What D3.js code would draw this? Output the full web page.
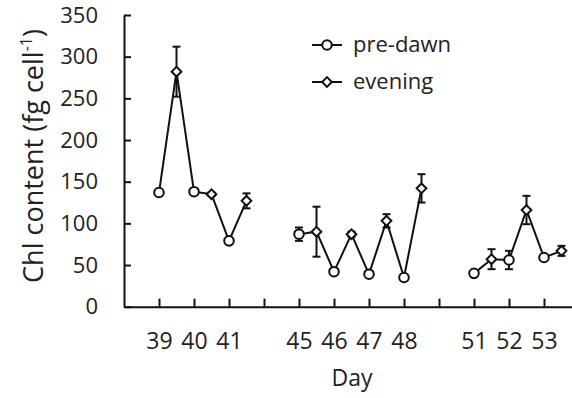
<!DOCTYPE html>
<html>
<head>
<meta charset="utf-8">
<script src="https://cdn.jsdelivr.net/npm/d3@7"></script>
<style>
  html, body { margin: 0; padding: 0; background: #fff; }
  svg { display: block; }
  text { font-family: "Open Sans", "DejaVu Sans", sans-serif; fill: #222; }
</style>
</head>
<body>
<svg id="chart" width="572" height="398"></svg>
<script>
// Category slots along the x axis (blank slots are gaps between sampling runs)
const tickLabels = ["39", "40", "41", "", "45", "46", "47", "48", "", "51", "52", "53"];
const days = [39, 40, 41, 45, 46, 47, 48, 51, 52, 53];

// Chl content (fg cell^-1), mean and error
const preDawn    = [137, 138, 79, 87, 42, 39, 35, 40, 56, 59];
const preDawnErr = [3, 2, 3, 8, 2, 2, 2, 2, 11, 2];
const evening    = [282, 135, 127, 90, 87, 103, 142, 57, 116, 67];
const eveningErr = [30, 2, 9, 30, 3, 8, 17, 12, 17, 6];

const yTicks = [0, 50, 100, 150, 200, 250, 300, 350];
const seriesNames = ["pre-dawn", "evening"];

const svg = d3.select("#chart");
const ink = "#111";

const x = d3.scaleLinear().domain([-1, 12]).range([124, 579]);
const y = d3.scaleLinear().domain([0, 350]).range([306.7, 15]);

const slotOf = d => tickLabels.indexOf(String(d));

// pre-dawn samples sit on the day tick, evening samples half a slot later
const points = [];
days.forEach((d, i) => {
  points.push({ pos: slotOf(d), v: preDawn[i], e: preDawnErr[i], kind: 0 });
  points.push({ pos: slotOf(d) + 0.5, v: evening[i], e: eveningErr[i], kind: 1 });
});
points.sort((a, b) => a.pos - b.pos);

// split into runs of consecutive samples
const runs = [];
points.forEach((p, i) => {
  if (i === 0 || p.pos - points[i - 1].pos > 0.5) runs.push([]);
  runs[runs.length - 1].push(p);
});

// axes
const yAxis = d3.axisLeft(y).tickValues(yTicks).tickSizeInner(-7).tickSizeOuter(0).tickPadding(26);
const gy = svg.append("g").attr("transform", "translate(124,0)").call(yAxis);
gy.select(".domain").attr("stroke", ink).attr("stroke-width", 2);
gy.selectAll(".tick line").attr("stroke", ink).attr("stroke-width", 2);
gy.selectAll(".tick text").attr("font-size", 22).attr("font-family", null).attr("fill", "#222");

const xAxis = d3.axisBottom(x).tickValues(d3.range(0, 12)).tickFormat(i => tickLabels[i])
  .tickSizeInner(-8).tickSizeOuter(0).tickPadding(26);
const gx = svg.append("g").attr("transform", "translate(0,306.7)").call(xAxis);
gx.select(".domain").attr("stroke", ink).attr("stroke-width", 2);
gx.selectAll(".tick line").attr("stroke", ink).attr("stroke-width", 2);
gx.selectAll(".tick text").attr("font-size", 23).attr("font-family", null).attr("fill", "#222");

// connecting lines
const line = d3.line().x(p => x(p.pos)).y(p => y(p.v));
svg.append("g").selectAll("path").data(runs).join("path")
  .attr("d", line).attr("fill", "none").attr("stroke", ink).attr("stroke-width", 2);

// error bars
const cap = 4;
const eb = svg.append("g").attr("stroke", ink).attr("stroke-width", 2);
points.forEach(p => {
  const cx = x(p.pos), y0 = y(p.v - p.e), y1 = y(p.v + p.e);
  eb.append("line").attr("x1", cx).attr("x2", cx).attr("y1", y0).attr("y2", y1);
  eb.append("line").attr("x1", cx - cap).attr("x2", cx + cap).attr("y1", y0).attr("y2", y0);
  eb.append("line").attr("x1", cx - cap).attr("x2", cx + cap).attr("y1", y1).attr("y2", y1);
});

// markers
const circleSym = d3.symbol().type(d3.symbolCircle).size(72);
const diamondSym = d3.symbol().type(d3.symbolDiamond2).size(60);
const marker = k => (k === 0 ? circleSym() : diamondSym());
svg.append("g").selectAll("path").data(points).join("path")
  .attr("d", p => marker(p.kind))
  .attr("transform", p => `translate(${x(p.pos)},${y(p.v)})`)
  .attr("fill", "#fff").attr("stroke", ink).attr("stroke-width", 2);

// legend
const legend = svg.append("g");
seriesNames.forEach((name, k) => {
  const ly = 45 + k * 37;
  legend.append("line").attr("x1", 312).attr("x2", 342).attr("y1", ly).attr("y2", ly)
    .attr("stroke", ink).attr("stroke-width", 2);
  legend.append("path").attr("d", marker(k)).attr("transform", `translate(327,${ly})`)
    .attr("fill", "#fff").attr("stroke", ink).attr("stroke-width", 2);
  legend.append("text").attr("x", 353).attr("y", ly + 7).attr("font-size", 22).text(name);
});

// axis titles
svg.append("text").attr("x", 352).attr("y", 386).attr("text-anchor", "middle")
  .attr("font-size", 23).text("Day");

const yt = svg.append("text").attr("transform", "translate(43,156) rotate(-90)")
  .attr("text-anchor", "middle").attr("font-size", 27);
yt.append("tspan").text("Chl content (fg cell");
yt.append("tspan").attr("font-size", 16).attr("dy", -11).text("-1");
yt.append("tspan").attr("dy", 11).text(")");
</script>
</body>
</html>
